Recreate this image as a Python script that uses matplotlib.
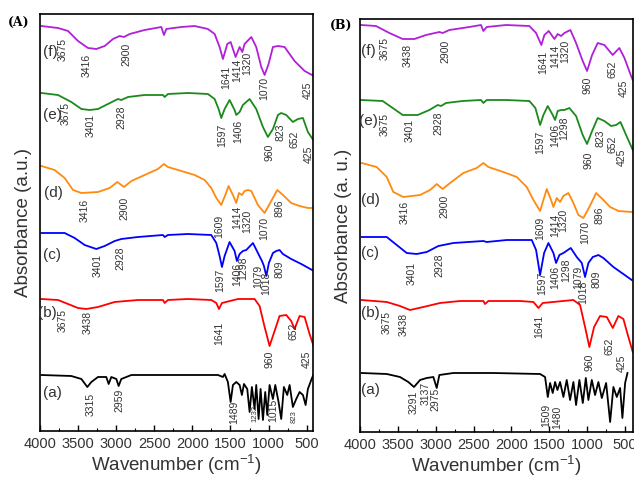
import numpy as np
import matplotlib
matplotlib.use("Agg")
import matplotlib.pyplot as plt
from matplotlib.ticker import MultipleLocator

plt.rcParams["font.family"] = ["Liberation Sans", "DejaVu Sans"]
plt.rcParams["mathtext.fontset"] = "custom"
plt.rcParams["mathtext.rm"] = "Liberation Sans"

# ---- panel A spectra (wavenumber, stacked absorbance a.u.) ----
A_f_wn = [3982, 3764, 3632, 3501, 3370, 3261, 3151, 3042, 2955, 2898, 2823, 2627, 2408, 2373, 2342, 2146, 1971, 1796, 1708, 1643, 1599, 1542, 1498, 1433, 1380, 1345, 1315, 1227, 1162, 1096, 1052, 1000, 943, 877, 790, 659, 527, 405]
A_f_y = [405, 403, 400, 390, 383, 382, 385, 392, 395, 394, 397, 401, 404, 396, 402, 404, 405, 402, 397, 384, 372, 387, 389, 374, 384, 379, 387, 394, 384, 364, 356, 367, 384, 385, 384, 370, 360, 355]

A_e_wn = [3982, 3764, 3589, 3457, 3348, 3239, 3108, 2977, 2933, 2845, 2627, 2386, 2364, 2321, 2058, 1796, 1708, 1656, 1621, 1577, 1512, 1446, 1424, 1380, 1337, 1249, 1162, 1074, 1009, 943, 877, 834, 768, 681, 615, 549, 484, 405]
A_e_y = [338, 336, 329, 322, 321, 322, 327, 332, 331, 334, 336, 336, 334, 337, 338, 337, 332, 322, 313, 322, 331, 321, 316, 319, 326, 332, 322, 304, 294, 302, 316, 318, 316, 309, 312, 313, 299, 290]

A_d_wn = [3982, 3808, 3676, 3567, 3457, 3239, 3086, 2985, 2898, 2801, 2627, 2452, 2373, 2321, 2146, 1971, 1839, 1752, 1686, 1621, 1568, 1525, 1468, 1424, 1389, 1350, 1315, 1271, 1227, 1140, 1052, 965, 886, 812, 703, 593, 484, 405]
A_d_y = [265, 261, 253, 241, 238, 239, 243, 249, 244, 250, 256, 262, 267, 264, 260, 256, 251, 243, 233, 226, 236, 245, 236, 228, 238, 236, 240, 241, 240, 226, 218, 230, 241, 236, 228, 225, 223, 223]

A_c_wn = [3982, 3676, 3545, 3414, 3261, 3151, 3020, 2933, 2714, 2386, 2364, 2321, 2058, 1752, 1686, 1643, 1612, 1577, 1512, 1446, 1416, 1380, 1337, 1293, 1205, 1140, 1087, 1061, 1030, 996, 943, 899, 856, 812, 703, 571, 405]
A_c_y = [198, 198, 193, 186, 182, 185, 190, 192, 194, 196, 194, 196, 197, 196, 188, 175, 164, 175, 189, 180, 170, 177, 180, 181, 188, 178, 170, 165, 155, 168, 178, 180, 181, 177, 172, 167, 160]

A_b_wn = [3982, 3764, 3632, 3501, 3392, 3239, 3020, 2714, 2386, 2364, 2321, 2058, 1752, 1686, 1651, 1612, 1402, 1184, 1118, 1052, 987, 921, 856, 768, 703, 659, 593, 527, 462, 405]
A_b_y = [132, 131, 127, 123, 122, 124, 129, 131, 131, 128, 131, 132, 131, 128, 122, 128, 132, 132, 125, 104, 85, 100, 115, 116, 110, 102, 115, 114, 97, 84]

A_a_wn = [3982, 3589, 3457, 3379, 3326, 3239, 3130, 3099, 3064, 2998, 2968, 2933, 2801, 2277, 1664, 1599, 1577, 1534, 1498, 1468, 1424, 1380, 1350, 1323, 1280, 1249, 1219, 1184, 1162, 1131, 1105, 1074, 1044, 1017, 987, 943, 912, 869, 834, 799, 755, 724, 681, 637, 593, 549, 514, 484, 440, 414]
A_a_y = [56, 55, 52, 44, 49, 54, 54, 47, 54, 52, 45, 52, 56, 56, 56, 54, 57, 49, 29, 46, 49, 46, 36, 47, 42, 19, 44, 22, 46, 12, 42, 11, 39, 16, 46, 32, 46, 29, 12, 44, 36, 46, 24, 32, 39, 36, 26, 42, 51, 56]

# ---- panel B spectra ----
B_f_wn = [3987, 3789, 3612, 3436, 3282, 3128, 2952, 2908, 2820, 2556, 2402, 2371, 2327, 2072, 1763, 1675, 1605, 1565, 1508, 1433, 1389, 1345, 1301, 1222, 1147, 1059, 1002, 935, 861, 773, 663, 575, 508, 420, 398]
B_f_y = [407, 406, 399, 393, 393, 397, 400, 399, 402, 405, 407, 401, 405, 407, 406, 399, 387, 397, 401, 393, 398, 396, 399, 402, 389, 371, 361, 377, 389, 387, 377, 384, 374, 356, 352]

B_e_wn = [3987, 3701, 3568, 3436, 3238, 3084, 2974, 2930, 2864, 2644, 2402, 2371, 2327, 2072, 1763, 1684, 1622, 1578, 1521, 1455, 1424, 1389, 1345, 1301, 1235, 1147, 1059, 1002, 935, 861, 773, 685, 618, 561, 486, 398]
B_e_y = [332, 331, 324, 317, 317, 322, 327, 326, 329, 331, 332, 329, 332, 332, 331, 324, 307, 317, 326, 317, 312, 321, 322, 322, 324, 316, 297, 288, 301, 314, 311, 306, 307, 310, 297, 282]

B_d_wn = [3978, 3780, 3647, 3560, 3428, 3207, 3075, 2987, 2908, 2811, 2635, 2459, 2371, 2305, 2107, 1930, 1798, 1710, 1622, 1578, 1534, 1477, 1446, 1402, 1358, 1314, 1248, 1182, 1116, 1050, 971, 882, 786, 697, 588, 411]
B_d_y = [269, 265, 255, 240, 235, 237, 242, 248, 243, 249, 259, 264, 269, 265, 260, 255, 245, 232, 221, 232, 243, 232, 225, 234, 230, 236, 239, 229, 217, 214, 225, 239, 232, 225, 221, 220]

B_c_wn = [3978, 3647, 3515, 3383, 3251, 3119, 2965, 2767, 2371, 2327, 2062, 1732, 1675, 1622, 1569, 1512, 1446, 1411, 1367, 1314, 1217, 1138, 1071, 1028, 984, 926, 852, 786, 654, 411]
B_c_y = [195, 195, 187, 179, 178, 180, 186, 189, 191, 190, 192, 192, 182, 157, 179, 189, 179, 169, 177, 179, 184, 175, 169, 155, 169, 175, 177, 174, 165, 152]

B_b_wn = [3978, 3647, 3472, 3340, 3164, 2943, 2679, 2371, 2349, 2305, 1886, 1710, 1644, 1587, 1182, 1094, 1028, 971, 909, 830, 741, 662, 588, 522, 456, 398]
B_b_y = [132, 130, 126, 122, 125, 129, 131, 131, 128, 131, 131, 130, 124, 129, 132, 127, 105, 85, 105, 116, 115, 104, 116, 113, 95, 80]

B_a_wn = [3978, 3647, 3472, 3362, 3287, 3207, 3119, 3031, 2987, 2952, 2767, 2239, 1622, 1556, 1520, 1490, 1455, 1424, 1393, 1358, 1314, 1270, 1226, 1182, 1147, 1103, 1058, 1018, 984, 939, 896, 852, 807, 750, 697, 654, 609, 565, 535, 499, 468]
B_a_y = [59, 58, 55, 50, 45, 52, 54, 55, 44, 57, 59, 59, 58, 55, 35, 49, 39, 50, 42, 50, 35, 52, 32, 50, 27, 52, 29, 54, 32, 52, 37, 50, 34, 49, 10, 45, 35, 44, 14, 49, 59]

# ---- peak annotations (text, wavenumber, height) ----
A_peaks = [("3675", 3698, 382), ("3416", 3383, 366), ("2900", 2859, 377), ("1641", 1560, 354), ("1414", 1416, 361), ("1320", 1284, 368), ("1070", 1061, 343), ("425", 484, 341),
           ("3675", 3659, 318), ("3401", 3331, 306), ("2928", 2937, 314), ("1597", 1612, 296), ("1406", 1402, 300), ("960", 982, 279), ("823", 838, 299), ("652", 654, 292), ("425", 471, 277),
           ("3416", 3414, 221), ("2900", 2898, 223), ("1609", 1642, 205), ("1414", 1415, 214), ("1320", 1280, 210), ("1070", 1052, 203), ("896", 855, 223),
           ("3401", 3239, 166), ("2928", 2941, 173), ("1597", 1630, 151), ("1406", 1415, 157), ("1298", 1337, 163), ("1079", 1140, 155), ("1018", 1031, 148), ("809", 855, 162),
           ("3675", 3698, 111), ("3438", 3370, 109), ("1641", 1642, 98), ("960", 987, 72), ("652", 667, 100), ("425", 493, 72),
           ("3315", 3335, 27), ("2959", 2955, 31), ("1489", 1446, 19), ("1015", 943, 21)]
A_small_peaks = [("1232", 1183, 17), ("823", 667, 14)]
B_peaks = [("3675", 3679, 384), ("3438", 3370, 377), ("2900", 2873, 381), ("1641", 1587, 370), ("1414", 1428, 376), ("1320", 1288, 381), ("960", 992, 347), ("652", 662, 363), ("425", 516, 344),
           ("3675", 3679, 307), ("3401", 3349, 302), ("2928", 2960, 309), ("1597", 1622, 290), ("1406", 1424, 297), ("1298", 1301, 304), ("960", 984, 272), ("823", 818, 294), ("652", 662, 288), ("425", 543, 275),
           ("3416", 3406, 220), ("2900", 2890, 226), ("1609", 1622, 204), ("1414", 1424, 207), ("1320", 1314, 212), ("1070", 1028, 200), ("896", 838, 217),
           ("3401", 3317, 159), ("2928", 2952, 167), ("1597", 1600, 149), ("1406", 1424, 155), ("1298", 1279, 162), ("1079", 1125, 155), ("1018", 1050, 140), ("809", 873, 153),
           ("3675", 3647, 109), ("3438", 3419, 108), ("1641", 1635, 106), ("960", 971, 70), ("652", 707, 86), ("425", 543, 69),
           ("3291", 3295, 30), ("3137", 3128, 39), ("2975", 3009, 33), ("1509", 1547, 17), ("1480", 1393, 15)]
tags = ["(f)", "(e)", "(d)", "(c)", "(b)", "(a)"]
A_tag_pos = [(3869, 379), (3843, 316), (3829, 238), (3843, 176), (3908, 118), (3843, 38)]
B_tag_pos = [(3894, 381), (3894, 311), (3868, 232), (3868, 179), (3868, 119), (3868, 42)]

colors = ["#b020d8", "#1b8a1b", "#ff8a10", "#0000ff", "#ff0000", "#000000"]

fig = plt.figure(figsize=(6.34, 4.79), dpi=100)
axA = fig.add_axes([40/634, 48/479, 273/634, 417/479])
axB = fig.add_axes([360/634, 47/479, 273/634, 413/479])

panels = [
    (axA, [(A_f_wn, A_f_y), (A_e_wn, A_e_y), (A_d_wn, A_d_y), (A_c_wn, A_c_y), (A_b_wn, A_b_y), (A_a_wn, A_a_y)],
     A_peaks, A_tag_pos, 417, 417, "Absorbance (a.u.)"),
    (axB, [(B_f_wn, B_f_y), (B_e_wn, B_e_y), (B_d_wn, B_d_y), (B_c_wn, B_c_y), (B_b_wn, B_b_y), (B_a_wn, B_a_y)],
     B_peaks, B_tag_pos, 395, 413, "Absorbance (a. u.)"),
]

for ax, series, peaks, tagpos, xmin, ytop, ylab in panels:
    for (wn, y), c in zip(series, colors):
        ax.plot(wn, y, color=c, lw=1.3)
    for t, x, y in peaks:
        ax.text(x, y, t, rotation=90, ha="center", va="center", fontsize=7.5, color="#333333")
    for t, (x, y) in zip(tags, tagpos):
        ax.text(x, y, t, ha="center", va="center", fontsize=11, color="#333333")
    ax.set_xlim(4000, xmin)
    ax.set_ylim(0, ytop)
    ax.set_yticks([])
    ax.xaxis.set_major_locator(MultipleLocator(500))
    ax.xaxis.set_minor_locator(MultipleLocator(250))
    ax.tick_params(axis="x", which="major", direction="in", length=4, width=1, labelsize=10.5, labelcolor="#333333", pad=4)
    ax.tick_params(axis="x", which="minor", direction="in", length=2, width=0.8)
    for s in ax.spines.values():
        s.set_linewidth(1.2)
    ax.set_xlabel(r"Wavenumber (cm$^{-1}$)", fontsize=13.5, color="#333333", labelpad=1)
    ax.set_ylabel(ylab, fontsize=13.5, color="#333333", labelpad=6)

for t, x, y in A_small_peaks:
    axA.text(x, y, t, rotation=90, ha="center", va="center", fontsize=5.5, color="#333333")

fig.text(19/634, 1 - 22/479, "(A)", fontsize=9, fontweight="bold", family="serif", ha="center", va="center")
fig.text(341/634, 1 - 25/479, "(B)", fontsize=9, fontweight="bold", family="serif", ha="center", va="center")

fig.savefig("out.png", dpi=100)
